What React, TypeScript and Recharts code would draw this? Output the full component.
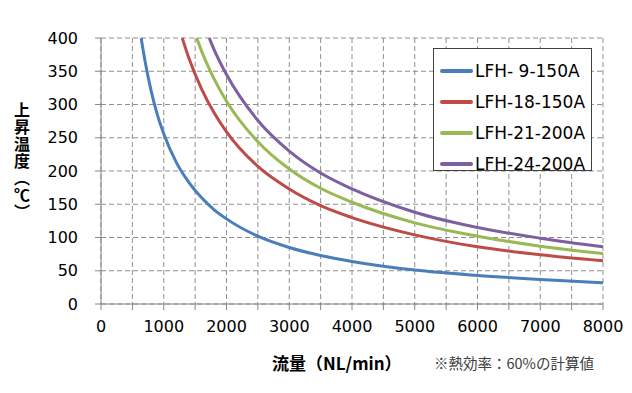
import { LineChart, Line, XAxis, YAxis, CartesianGrid } from 'recharts';

const SERIES_NAMES = ['LFH- 9-150A', 'LFH-18-150A', 'LFH-21-200A', 'LFH-24-200A'];
const SERIES_COLORS = ['#4A7EBB', '#BE4B48', '#98B954', '#7D60A0'];

// flow (NL/min) / temperature rise (℃)
const FLOW_9 = [640, 700, 800, 900, 1000, 1200, 1400, 1600, 1800, 2000, 2500, 3000, 3500, 4000, 5000, 6000, 7000, 8000];
const TEMP_9 = [400, 366, 320, 284, 256, 213, 183, 160, 142, 128, 102, 85, 73, 64, 51, 43, 37, 32];

const FLOW_18 = [1295, 1400, 1600, 1800, 2000, 2500, 3000, 3500, 4000, 5000, 6000, 7000, 8000];
const TEMP_18 = [400, 370, 324, 288, 259, 207, 173, 148, 130, 104, 86, 74, 65];

const FLOW_21 = [1525, 1600, 1800, 2000, 2500, 3000, 3500, 4000, 5000, 6000, 7000, 8000];
const TEMP_21 = [400, 381, 339, 305, 244, 203, 174, 153, 122, 102, 87, 76];

const FLOW_24 = [1725, 1800, 2000, 2500, 3000, 3500, 4000, 5000, 6000, 7000, 8000];
const TEMP_24 = [400, 383, 345, 276, 230, 197, 173, 138, 115, 99, 86];

const X_TICKS = [0, 500, 1000, 1500, 2000, 2500, 3000, 3500, 4000, 4500, 5000, 5500, 6000, 6500, 7000, 7500, 8000];
const Y_TICKS = [0, 50, 100, 150, 200, 250, 300, 350, 400];

const toPoints = (flows: number[], temps: number[]) => flows.map((x, i) => ({ x, y: temps[i] }));

const SERIES = [
  toPoints(FLOW_9, TEMP_9),
  toPoints(FLOW_18, TEMP_18),
  toPoints(FLOW_21, TEMP_21),
  toPoints(FLOW_24, TEMP_24),
];

const TICK_FONT = { fill: '#000', fontSize: 16, fontFamily: '"DejaVu Sans", Verdana, sans-serif' };
const AXIS_GRAY = '#868686';

const App = () => {
  return (
    <div style={{ position: 'absolute', left: 0, top: 0, width: 632, height: 393, background: '#fff' }}>
      <LineChart width={632} height={393} margin={{ top: 38, right: 29, bottom: 59, left: 0 }}>
        <CartesianGrid stroke="#8f8f8f" strokeDasharray="5 3" />
        <XAxis
          type="number"
          dataKey="x"
          domain={[0, 8000]}
          ticks={X_TICKS}
          interval={0}
          height={30}
          tickSize={6}
          tickMargin={11}
          tick={TICK_FONT}
          tickFormatter={(v: number) => (v % 1000 === 0 ? String(v) : '')}
          stroke={AXIS_GRAY}
          allowDuplicatedCategory={false}
        />
        <YAxis
          type="number"
          domain={[0, 400]}
          ticks={Y_TICKS}
          interval={0}
          width={101}
          tickSize={6}
          tickMargin={17}
          tick={TICK_FONT}
          stroke={AXIS_GRAY}
        />
        {SERIES.map((data, i) => (
          <Line
            key={SERIES_NAMES[i]}
            data={data}
            dataKey="y"
            name={SERIES_NAMES[i]}
            type="monotone"
            stroke={SERIES_COLORS[i]}
            strokeWidth={3}
            dot={false}
            activeDot={false}
            isAnimationActive={false}
          />
        ))}
      </LineChart>

      {/* legend box */}
      <div
        style={{
          position: 'absolute',
          left: 433,
          top: 48,
          width: 157,
          height: 121,
          border: '1.5px solid #404040',
          background: '#fff',
          boxSizing: 'content-box',
        }}
      >
        {SERIES_NAMES.map((name, i) => (
          <div
            key={name}
            style={{
              position: 'absolute',
              left: 6,
              top: 6 + i * 31,
              height: 31,
              display: 'flex',
              alignItems: 'center',
              whiteSpace: 'pre',
            }}
          >
            <div style={{ width: 33, height: 4, background: SERIES_COLORS[i], borderRadius: 2, marginRight: 2 }} />
            <span style={{ fontFamily: '"DejaVu Sans", Verdana, sans-serif', fontSize: 17, color: '#000' }}>{name}</span>
          </div>
        ))}
      </div>

      {/* y axis title */}
      <div
        style={{
          position: 'absolute',
          left: 14,
          top: 102,
          writingMode: 'vertical-rl',
          fontFamily: '"Noto Sans CJK JP", sans-serif',
          fontWeight: 'bold',
          fontSize: 16,
          lineHeight: 1,
          letterSpacing: 1,
          color: '#000',
        }}
      >
        上昇温度（℃）
      </div>

      {/* x axis title */}
      <div
        style={{
          position: 'absolute',
          left: 272,
          top: 352,
          fontFamily: '"Noto Sans CJK JP", sans-serif',
          fontWeight: 'bold',
          fontSize: 17,
          lineHeight: '22px',
          color: '#000',
          whiteSpace: 'nowrap',
        }}
      >
        流量（NL/min）
      </div>

      <div
        style={{
          position: 'absolute',
          left: 434,
          top: 353,
          fontFamily: '"Noto Sans CJK JP", sans-serif',
          fontSize: 14.5,
          lineHeight: '20px',
          color: '#404040',
          whiteSpace: 'nowrap',
        }}
      >
        ※熱効率：60%の計算値
      </div>
    </div>
  );
};

export default App;
